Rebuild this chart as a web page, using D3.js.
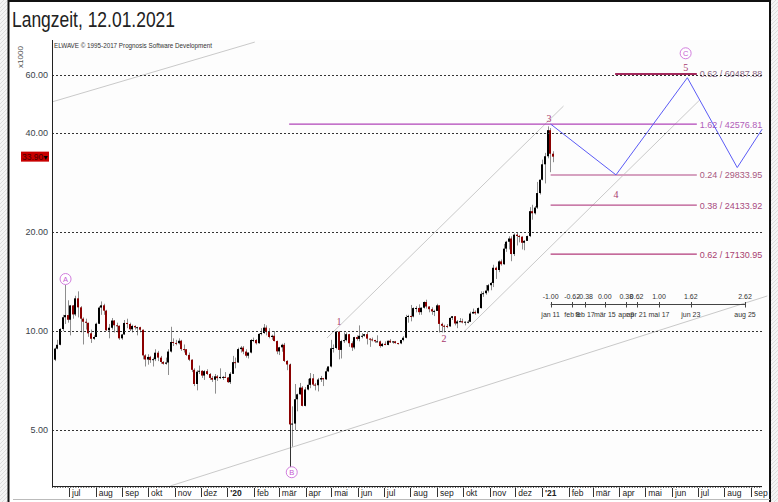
<!DOCTYPE html>
<html>
<head>
<meta charset="utf-8">
<script src="https://cdn.jsdelivr.net/npm/d3@7"></script>
<style>
  body { margin: 0; background: #fff; }
  svg { display: block; font-family: "Liberation Sans", Arial, sans-serif; }
</style>
</head>
<body>
<svg id="chart" width="778" height="502"></svg>
<script>
// 3-day bars, price in thousands
const firstBar = new Date(2019, 5, 10);
const barOpen = [7.63,8.18,8.84,9.08,10.14,11.01,11.18,10.82,11.96,11.23,
  12.57,11.8,10.9,10.67,10.59,9.84,9.47,9.59,10.52,11.78,
  11.97,11.53,10.05,10.23,10.76,10.41,10.37,9.5,9.76,10.58,
  10.5,10.12,10.36,10.26,10.27,10.09,8.43,8.19,8.34,8.16,
  8.21,8.59,8.3,8.05,7.95,8.02,8.66,9.26,9.2,9.18,
  9.34,8.81,8.8,8.46,8.18,7.62,6.9,7.52,7.57,7.32,
  7.55,7.4,7.2,7.11,7.28,7.19,7.25,7.25,7.22,6.99,
  7.41,8.04,8.02,8.81,8.9,8.66,8.41,8.6,9.39,9.39,
  9.18,9.8,9.86,10.24,9.93,9.59,9.67,9.32,8.67,8.92,
  9.08,8.11,7.91,5.2,5.23,6.2,6.42,6.73,5.92,6.64,
  6.86,7.18,6.87,6.84,7.12,7.19,7.13,7.54,7.8,8.86,
  8.88,9.95,8.76,9.32,9.38,9.78,9.18,8.91,9.58,9.46,
  9.67,9.67,9.78,9.48,9.43,9.39,9.3,9.3,9.0,9.14,
  9.07,9.34,9.23,9.3,9.19,9.17,9.39,9.54,11.03,11.11,
  11.07,11.74,11.75,11.41,11.77,12.25,11.87,11.65,11.47,11.51,
  11.97,10.51,10.37,10.36,10.33,10.96,11.09,10.54,10.69,10.71,
  10.62,10.67,10.67,11.3,11.43,11.32,11.74,12.97,13.03,13.27,
  13.78,14.0,15.57,15.33,16.28,15.96,17.8,18.68,19.11,17.14,
  19.63,19.45,19.36,18.55,18.8,19.44,23.14,22.8,23.73,26.27,
  28.84,32.13,33.99,40.8,34.6];
const barHigh = [8.3,8.9,9.4,10.2,11.2,13.8,12.4,12.0,12.0,12.8,
  13.2,11.9,11.0,10.9,10.6,10.1,9.7,10.6,11.9,12.3,
  12.1,11.6,10.5,10.95,10.8,10.6,10.4,9.8,10.8,10.9,
  10.6,10.45,10.4,10.3,10.3,10.1,8.5,8.5,8.4,8.3,
  8.8,8.7,8.4,8.1,8.3,8.8,10.3,9.5,9.4,9.5,
  9.4,9.1,8.8,8.6,8.2,7.7,7.6,7.85,7.6,7.6,
  7.65,7.45,7.3,7.4,7.35,7.7,7.3,7.5,7.25,7.5,
  8.4,8.3,8.9,9.0,9.0,8.8,8.6,9.45,9.55,9.45,
  9.85,10.2,10.5,10.4,10.2,9.75,10.0,9.35,8.95,9.15,
  9.2,8.15,7.95,5.9,6.9,6.45,6.95,6.8,6.75,7.15,
  7.45,7.4,6.95,7.2,7.3,7.2,7.7,7.8,9.4,9.1,
  10.0,10.0,9.4,9.9,9.9,9.8,9.3,9.6,9.7,10.4,
  9.85,9.8,9.95,9.5,9.55,9.4,9.7,9.35,9.2,9.3,
  9.35,9.45,9.32,9.33,9.2,9.4,9.65,11.2,11.2,12.0,
  11.8,11.9,12.05,11.8,12.3,12.45,11.9,11.8,11.6,12.1,
  11.97,10.6,10.45,10.5,11.0,11.1,11.1,10.8,10.95,10.9,
  10.7,10.8,11.45,11.7,11.55,11.8,13.2,13.2,13.8,13.9,
  14.1,15.9,15.7,16.4,16.5,18.4,18.8,19.4,19.4,19.8,
  19.9,19.6,19.4,18.9,19.5,23.8,24.2,24.0,28.4,28.9,
  33.2,34.8,41.9,41.4,35.2];
const barLow = [7.6,8.1,8.8,9.05,10.0,10.5,10.6,9.7,10.9,11.1,
  11.0,9.9,9.1,10.1,9.6,9.2,9.4,9.6,10.5,11.2,
  11.2,10.0,9.5,10.1,9.9,9.9,9.4,9.4,9.75,10.2,
  10.0,9.9,10.1,9.7,9.9,8.2,7.8,7.9,8.0,7.8,
  8.1,8.1,7.95,7.9,7.9,7.35,8.6,9.0,9.05,9.1,
  8.7,8.6,8.4,8.1,7.5,6.8,6.6,7.4,7.2,7.1,
  7.35,7.1,7.0,6.45,7.05,7.15,7.1,7.2,6.95,6.9,
  7.4,7.7,8.0,8.6,8.5,8.3,8.25,8.55,9.25,9.1,
  9.15,9.7,9.8,9.7,9.5,9.4,9.3,8.5,8.45,8.65,
  8.05,7.6,3.86,4.45,5.0,5.7,6.4,5.9,5.9,6.6,
  6.7,6.8,6.6,6.55,7.0,6.8,7.1,7.5,7.75,8.6,
  8.8,8.2,8.25,9.2,9.3,8.95,8.7,8.8,9.35,9.3,
  9.5,9.6,9.1,8.95,9.3,9.2,9.25,8.9,8.95,9.05,
  9.05,9.2,9.15,9.15,9.1,9.12,9.3,9.5,10.6,10.7,
  11.0,11.4,11.2,11.2,11.7,11.7,11.4,11.2,11.1,11.5,
  9.9,9.9,9.9,10.2,10.3,10.8,10.4,10.2,10.65,10.55,
  10.4,10.55,10.65,11.3,11.2,11.3,11.7,12.7,12.9,13.1,
  13.3,13.6,14.4,15.1,15.8,15.9,17.4,17.7,16.3,16.9,
  18.2,18.6,17.7,17.6,18.8,19.3,21.8,22.6,23.5,26.0,
  28.7,28.1,33.5,30.4,32.6];
const barClose = [8.18,8.84,9.08,10.14,11.01,11.18,10.82,11.96,11.23,12.57,
  11.8,10.9,10.67,10.59,9.84,9.47,9.59,10.52,11.78,11.97,
  11.53,10.05,10.23,10.76,10.41,10.37,9.5,9.76,10.58,10.5,
  10.12,10.36,10.26,10.27,10.09,8.43,8.19,8.34,8.16,8.21,
  8.59,8.3,8.05,7.95,8.02,8.66,9.26,9.2,9.18,9.34,
  8.81,8.8,8.46,8.18,7.62,6.9,7.52,7.57,7.32,7.55,
  7.4,7.2,7.11,7.28,7.19,7.25,7.25,7.22,6.99,7.41,
  8.04,8.02,8.81,8.9,8.66,8.41,8.6,9.39,9.39,9.18,
  9.8,9.86,10.24,9.93,9.59,9.67,9.32,8.67,8.92,9.08,
  8.11,7.91,5.2,5.23,6.2,6.42,6.73,5.92,6.64,6.86,
  7.18,6.87,6.84,7.12,7.19,7.13,7.54,7.8,8.86,8.88,
  9.95,8.76,9.32,9.38,9.78,9.18,8.91,9.58,9.46,9.67,
  9.67,9.78,9.48,9.43,9.39,9.3,9.3,9.0,9.14,9.07,
  9.34,9.23,9.3,9.19,9.17,9.39,9.54,11.03,11.11,11.07,
  11.74,11.75,11.41,11.77,12.25,11.87,11.65,11.47,11.51,11.97,
  10.51,10.37,10.36,10.33,10.96,11.09,10.54,10.69,10.71,10.62,
  10.67,10.67,11.3,11.43,11.32,11.74,12.97,13.03,13.27,13.78,
  14.0,15.57,15.33,16.28,15.96,17.8,18.68,19.11,17.14,19.63,
  19.45,19.36,18.55,18.8,19.44,23.14,22.8,23.73,26.27,28.84,
  32.13,33.99,40.8,34.6,33.9];

const yTicks = [5, 10, 20, 40, 60];
const monthLabels = ['jul','aug','sep','okt','nov','dez',"'20",'feb','mär','apr','mai','jun',
  'jul','aug','sep','okt','nov','dez',"'21",'feb','mär','apr','mai','jun','jul','aug','sep'];

// Fibonacci price targets
const fibRatio = ['0.62', '1.62', '0.24', '0.38', '0.62'];
const fibValue = [60487.88, 42576.81, 29833.95, 24133.92, 17130.95];
const fibStart = ['2021-03-27', '2020-03-13', '2021-01-11', '2021-01-11', '2021-01-11'];
const fibEnd = '2021-06-30';
const fibColor = ['#a3285c', '#b044b8', '#d6a2c0', '#b8508c', '#b23a7a'];
const fibTextColor = ['#8c6a86', '#b05cb8', '#a8587f', '#a84a7e', '#a8406f'];
const fibWidth = [2, 1.2, 2, 1.4, 1.4];

// projected wave path
const projDates = ['2021-01-11', '2021-03-28', '2021-06-19', '2021-08-16', '2021-09-14'];
const projValues = [42.58, 29.83, 58.9, 31.4, 41.1];

// trend channel lines (two anchor points each)
const channelLines = [
  [['2019-06-11', 49.7], ['2020-02-02', 75.6]],
  [['2020-04-26', 9.52], ['2021-01-26', 48.3]],
  [['2020-10-02', 9.93], ['2021-07-03', 50.3]],
  [['2019-10-27', 3.38], ['2021-09-20', 12.78]]
];

// wave labels
const waveNames = ['A', 'B', 'C', '1', '2', '3', '4', '5'];
const waveCircled = [true, true, true, false, false, false, false, false];
const waveDates = ['2019-06-27', '2020-03-16', '2021-06-17', '2020-05-10', '2020-09-09', '2021-01-09', '2021-03-28', '2021-06-17'];
const waveValues = [14.39, 3.72, 69.9, 10.63, 9.44, 44.2, 26.0, 63.3];

// Fibonacci time ratios
const timeRatio = ['-1.00', '-0.62', '-0.38', '0.00', '0.38', '0.62', '1.00', '1.62', '2.62'];
const timeDates = ['2021-01-11', '2021-02-05', '2021-02-20', '2021-03-15', '2021-04-09', '2021-04-21', '2021-05-17', '2021-06-23', '2021-08-25'];
const timeLabels = ['jan 11', 'feb 8', 'feb 17', 'mär 15', 'apr 9', 'apr 21', 'mai 17', 'jun 23', 'aug 25'];
const timeAxisValue = 12.08;

const parse = d3.timeParse('%Y-%m-%d');
const svg = d3.select('#chart');
const pL = 52, pR = 768, pT = 40, pB = 486, gridEnd = 762;

const x = d3.scaleTime()
  .domain([new Date(2019, 6, 1), new Date(2021, 8, 1)])
  .range([69, 751]);
const y = d3.scaleLog().domain([5, 10]).range([430, 331]);

const defs = svg.append('defs');
const hatch = defs.append('pattern')
  .attr('id', 'hatch').attr('width', 4).attr('height', 4)
  .attr('patternUnits', 'userSpaceOnUse');
hatch.append('rect').attr('width', 4).attr('height', 4).attr('fill', '#f4f4f4');
hatch.append('path').attr('d', 'M0,4 L4,0').attr('stroke', '#dcdcdc').attr('stroke-width', 1);
defs.append('clipPath').attr('id', 'plotClip')
  .append('rect').attr('x', pL).attr('y', pT).attr('width', pR - pL).attr('height', pB - pT);

// frame
svg.append('rect').attr('width', 778).attr('height', 502).attr('fill', '#fff');
svg.append('rect').attr('x', 0).attr('y', 0).attr('width', 8).attr('height', 502).attr('fill', 'url(#hatch)');
svg.append('rect').attr('x', 771).attr('y', 0).attr('width', 7).attr('height', 502).attr('fill', 'url(#hatch)');
svg.append('rect').attr('x', pL).attr('y', pT).attr('width', pR - pL).attr('height', pB - pT).attr('fill', '#fdfdfd');
svg.append('line').attr('x1', 8.5).attr('x2', 8.5).attr('y1', 0).attr('y2', 502).attr('stroke', '#111').attr('stroke-width', 2);
svg.append('line').attr('x1', 8).attr('x2', 771).attr('y1', 1).attr('y2', 1).attr('stroke', '#111').attr('stroke-width', 2);
svg.append('line').attr('x1', 770).attr('x2', 770).attr('y1', 0).attr('y2', 502).attr('stroke', '#111').attr('stroke-width', 2);
svg.append('line').attr('x1', 13).attr('x2', 770).attr('y1', 499.5).attr('y2', 499.5).attr('stroke', '#bbb');

// title and notes
svg.append('text').attr('x', 12).attr('y', 27).attr('font-size', 22).attr('fill', '#222')
  .attr('textLength', 163).attr('lengthAdjust', 'spacingAndGlyphs').text('Langzeit, 12.01.2021');
svg.append('text').attr('x', 54).attr('y', 48).attr('font-size', 6.5).attr('fill', '#333')
  .attr('textLength', 158).attr('lengthAdjust', 'spacingAndGlyphs')
  .text('ELWAVE © 1995-2017 Prognosis Software Development');
svg.append('text').attr('transform', 'translate(23,57) rotate(-90)').attr('text-anchor', 'middle')
  .attr('font-size', 8).attr('fill', '#555').text('x1000');

const plotG = svg.append('g').attr('clip-path', 'url(#plotClip)');

// channel lines
plotG.selectAll('.channel').data(channelLines).enter().append('line')
  .attr('x1', d => x(parse(d[0][0]))).attr('y1', d => y(d[0][1]))
  .attr('x2', d => x(parse(d[1][0]))).attr('y2', d => y(d[1][1]))
  .attr('stroke', '#c9c9c9').attr('stroke-width', 1);

// fib levels
const fib = fibValue.map((v, i) => ({v: v / 1000, ratio: fibRatio[i], start: parse(fibStart[i]), i}));
plotG.selectAll('.fib').data(fib).enter().append('line')
  .attr('x1', d => x(d.start)).attr('x2', x(parse(fibEnd)))
  .attr('y1', d => y(d.v)).attr('y2', d => y(d.v))
  .attr('stroke', d => fibColor[d.i]).attr('stroke-width', d => fibWidth[d.i]);
plotG.selectAll('.fibLabel').data(fib).enter().append('text')
  .attr('x', x(parse(fibEnd)) + 3).attr('y', d => y(d.v) + 3.5)
  .attr('font-size', 9).attr('fill', d => fibTextColor[d.i])
  .text(d => `${d.ratio} / ${d3.format('.2f')(fibValue[d.i])}`);

// grid lines and y labels
svg.selectAll('.grid').data(yTicks).enter().append('line')
  .attr('x1', pL).attr('x2', gridEnd).attr('y1', d => Math.round(y(d)) + 0.5).attr('y2', d => Math.round(y(d)) + 0.5)
  .attr('stroke', '#333').attr('stroke-dasharray', '2,2');
svg.selectAll('.ylab').data(yTicks).enter().append('text')
  .attr('x', 48).attr('y', d => y(d) + 3).attr('text-anchor', 'end')
  .attr('font-size', 9).attr('fill', '#3a3f4a').text(d => d.toFixed(2));

// candles
const bars = barClose.map((c, i) => ({
  t: d3.timeHour.offset(d3.timeDay.offset(firstBar, 3 * i), 36),
  o: barOpen[i], h: barHigh[i], l: barLow[i], c
}));
const cg = plotG.append('g');
cg.selectAll('.wick').data(bars).enter().append('line')
  .attr('x1', d => Math.round(x(d.t)) + 0.5).attr('x2', d => Math.round(x(d.t)) + 0.5)
  .attr('y1', d => y(d.h)).attr('y2', d => y(d.l))
  .attr('stroke', d => d.l < 4 ? '#333' : '#8e8e8e').attr('stroke-width', 1);
cg.selectAll('.body').data(bars).enter().append('rect')
  .attr('x', d => Math.round(x(d.t)) - 1)
  .attr('width', 2)
  .attr('y', d => y(Math.max(d.o, d.c)))
  .attr('height', d => Math.max(1, y(Math.min(d.o, d.c)) - y(Math.max(d.o, d.c))))
  .attr('fill', d => d.c >= d.o ? '#000' : '#8b0000');

// projected zigzag
const proj = projDates.map((d, i) => [x(parse(d)), y(projValues[i])]);
plotG.append('path').attr('d', d3.line()(proj))
  .attr('fill', 'none').attr('stroke', '#5b5bf6').attr('stroke-width', 1);

// wave labels
const waves = waveNames.map((n, i) => ({n, circ: waveCircled[i], t: parse(waveDates[i]), v: waveValues[i]}));
const wg = svg.selectAll('.wave').data(waves).enter().append('g')
  .attr('transform', d => `translate(${x(d.t)},${y(d.v)})`);
wg.filter(d => d.circ).append('circle').attr('r', 5.5)
  .attr('fill', '#fff').attr('stroke', '#d27ede').attr('stroke-width', 1);
wg.append('text').attr('text-anchor', 'middle').attr('dy', d => d.circ ? 2.6 : 3.2)
  .attr('font-family', d => d.circ ? '"Liberation Sans", Arial, sans-serif' : '"Liberation Serif", "Times New Roman", serif')
  .attr('font-size', d => d.circ ? 7.5 : 10)
  .attr('fill', d => d.circ ? '#c45ad2' : '#a8386e')
  .text(d => d.n);

// time ratio axis
const ty = Math.round(y(timeAxisValue)) + 0.5;
const tx = timeDates.map(d => x(parse(d)));
svg.append('line').attr('x1', tx[0]).attr('x2', tx[tx.length - 1]).attr('y1', ty).attr('y2', ty)
  .attr('stroke', '#444');
svg.selectAll('.tTick').data(tx).enter().append('line')
  .attr('x1', d => Math.round(d) + 0.5).attr('x2', d => Math.round(d) + 0.5)
  .attr('y1', ty - 2.5).attr('y2', ty + 3).attr('stroke', '#444');
svg.selectAll('.tTop').data(timeRatio).enter().append('text')
  .attr('x', (d, i) => tx[i]).attr('y', ty - 6).attr('text-anchor', 'middle')
  .attr('font-size', 7).attr('fill', '#333').text(d => d);
svg.selectAll('.tBot').data(timeLabels).enter().append('text')
  .attr('x', (d, i) => tx[i]).attr('y', ty + 12).attr('text-anchor', 'middle')
  .attr('font-size', 7).attr('fill', '#333').text(d => d);

// axes
svg.append('line').attr('x1', pL + 0.5).attr('x2', pL + 0.5).attr('y1', pT).attr('y2', pB + 1)
  .attr('stroke', '#222');
svg.append('line').attr('x1', pL).attr('x2', gridEnd).attr('y1', pB + 0.5).attr('y2', pB + 0.5)
  .attr('stroke', '#222');
svg.append('line').attr('x1', pL).attr('x2', gridEnd).attr('y1', pB + 1.5).attr('y2', pB + 1.5)
  .attr('stroke', '#555').attr('stroke-dasharray', '1,1.6');

const months = d3.timeMonth.range(new Date(2019, 6, 1), new Date(2021, 8, 2));
svg.selectAll('.mTick').data(months).enter().append('line')
  .attr('x1', d => Math.round(x(d)) + 0.5).attr('x2', d => Math.round(x(d)) + 0.5)
  .attr('y1', pB + 2).attr('y2', pB + 11).attr('stroke', '#333');
svg.selectAll('.mLab').data(months).enter().append('text')
  .attr('x', d => x(d) + 3).attr('y', pB + 10)
  .attr('font-size', 8.5).attr('fill', '#222')
  .attr('font-weight', (d, i) => monthLabels[i].startsWith("'") ? 'bold' : 'normal')
  .text((d, i) => monthLabels[i]);

// last price tag
const last = barClose[barClose.length - 1];
svg.append('rect').attr('x', 21).attr('y', y(last) - 5).attr('width', 28).attr('height', 10).attr('fill', '#c80000');
svg.append('text').attr('x', 22).attr('y', y(last) + 3.2).attr('font-size', 8.5).attr('fill', '#4a0000')
  .text(last.toFixed(2));
svg.append('text').attr('x', 42).attr('y', y(last) + 3).attr('font-size', 7).attr('fill', '#000').text('▼');
</script>
</body>
</html>
